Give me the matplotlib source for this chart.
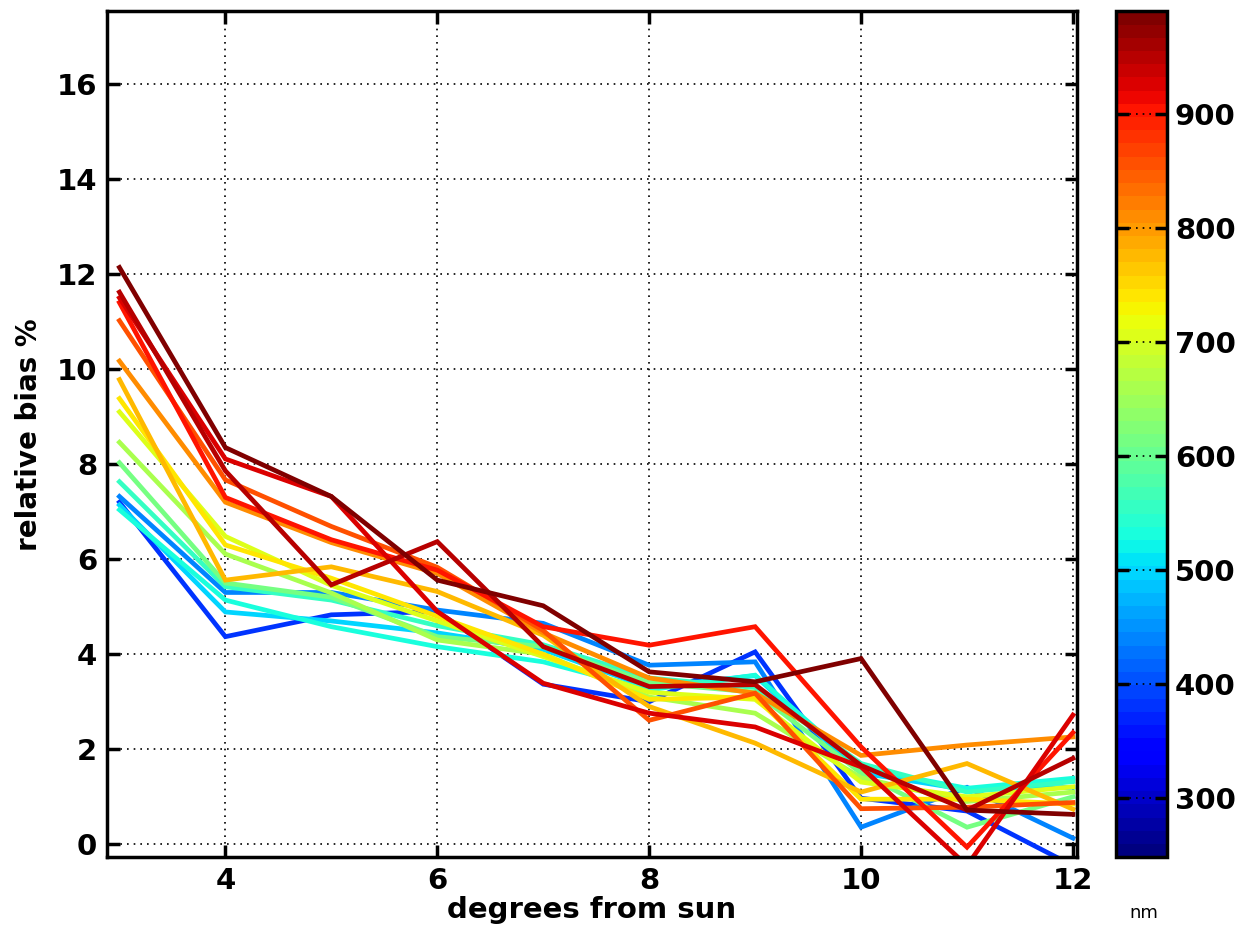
import numpy as np
import matplotlib.pyplot as plt
import matplotlib as mpl

# degrees from sun
deg = [3, 4, 5, 6, 7, 8, 9, 10, 11, 12]

# wavelengths (nm) of each curve
wl = [380, 440, 500, 530, 560, 610, 660, 710, 740, 770, 810, 860, 900, 925, 950, 990]

# relative bias % for every wavelength (same order as wl)
bias = [
    [7.20, 4.37, 4.83, 4.90, 3.37, 3.00, 4.05, 0.97, 0.70, -0.45],
    [7.32, 5.30, 5.30, 4.93, 4.65, 3.77, 3.84, 0.36, 1.20, 0.13],
    [7.14, 4.89, 4.70, 4.45, 4.10, 3.30, 3.55, 1.50, 1.15, 1.20],
    [7.04, 5.14, 4.58, 4.16, 3.84, 3.25, 3.56, 1.60, 1.18, 1.39],
    [7.63, 5.42, 5.14, 4.60, 4.20, 3.50, 3.30, 1.70, 1.10, 1.32],
    [8.03, 5.50, 5.20, 4.37, 4.16, 3.40, 3.20, 1.50, 0.36, 1.00],
    [8.46, 6.11, 5.29, 4.30, 4.00, 3.10, 2.76, 1.40, 0.90, 1.10],
    [9.10, 6.48, 5.45, 4.70, 3.95, 3.20, 3.05, 1.31, 1.00, 1.21],
    [9.38, 6.30, 5.60, 4.80, 4.00, 3.05, 3.10, 0.95, 0.95, 0.85],
    [9.78, 5.56, 5.84, 5.32, 4.40, 2.90, 2.13, 1.10, 1.70, 0.74],
    [10.17, 7.20, 6.35, 5.70, 4.45, 3.50, 3.18, 1.87, 2.09, 2.26],
    [11.02, 7.67, 6.69, 5.83, 4.50, 2.61, 3.18, 0.75, 0.78, 0.88],
    [11.40, 7.30, 6.41, 5.77, 4.58, 4.19, 4.58, 2.05, -0.06, 2.35],
    [11.50, 8.11, 7.32, 4.90, 3.39, 2.76, 2.47, 1.63, -0.45, 2.72],
    [11.62, 7.86, 5.46, 6.37, 4.16, 3.32, 3.36, 1.66, 0.72, 1.81],
    [12.14, 8.35, 7.32, 5.56, 5.02, 3.63, 3.42, 3.91, 0.72, 0.63],
]

cb_ticks = [300, 400, 500, 600, 700, 800, 900]
wl_min, wl_max = 248, 990

plt.rcParams['font.family'] = 'DejaVu Sans'
plt.rcParams['font.weight'] = 'bold'

fig = plt.figure(figsize=(12.41, 9.44), dpi=100)
ax = fig.add_axes([0.086, 0.092, 0.782, 0.896])
cax = fig.add_axes([0.899, 0.092, 0.041, 0.896])

cmap = plt.get_cmap('jet', 64)
norm = mpl.colors.Normalize(vmin=wl_min, vmax=wl_max)

for w, b in zip(wl, bias):
    ax.plot(deg, b, color=cmap(norm(w)), linewidth=3.4, solid_joinstyle='miter')

ax.set_xlim(2.88, 12.04)
ax.set_ylim(-0.27, 17.53)
ax.set_xticks([4, 6, 8, 10, 12])
ax.set_yticks([0, 2, 4, 6, 8, 10, 12, 14, 16])
ax.grid(True, color='black', linestyle=(0, (1, 3)), linewidth=1.2)
ax.tick_params(direction='in', length=9, width=2.5, labelsize=21,
               top=True, right=True, pad=7)
for s in ax.spines.values():
    s.set_linewidth(2.5)
ax.set_xlabel('degrees from sun', fontsize=21, fontweight='bold', labelpad=1)
ax.set_ylabel('relative bias %', fontsize=20, fontweight='bold', labelpad=10)

cb = mpl.colorbar.ColorbarBase(cax, cmap=cmap, norm=norm, ticks=cb_ticks)
cb.outline.set_linewidth(2.5)
cax.tick_params(direction='in', length=9, width=2.5, labelsize=21, pad=6,
                left=True, right=True)
for t in cb_ticks:
    cax.axhline(t, color='black', linestyle=(0, (1, 3)), linewidth=1.2)

fig.text(0.922, 0.028, 'nm', fontsize=13, fontweight='normal', ha='center')

plt.savefig('out.png', dpi=100)
